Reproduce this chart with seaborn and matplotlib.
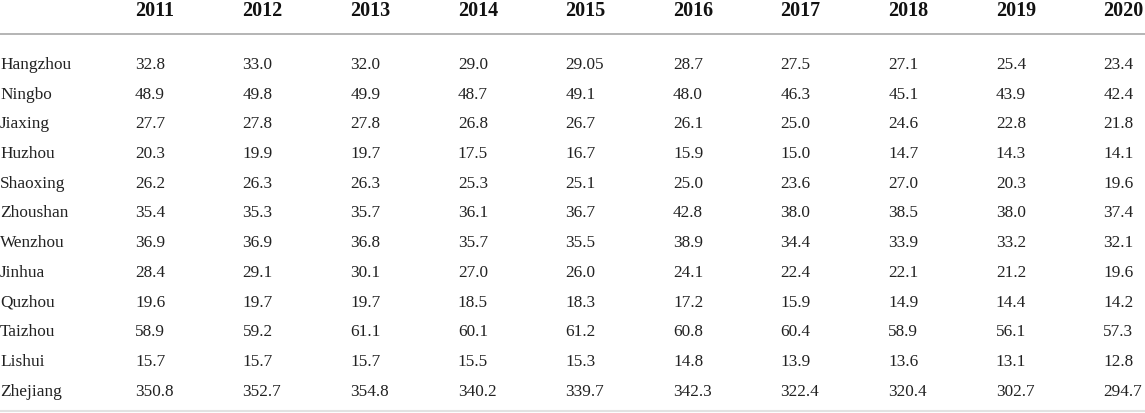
import pandas as pd
import matplotlib
matplotlib.use("Agg")
import matplotlib.pyplot as plt
import seaborn as sns

years = ["2011", "2012", "2013", "2014", "2015", "2016", "2017", "2018", "2019", "2020"]
cities = ["Hangzhou", "Ningbo", "Jiaxing", "Huzhou", "Shaoxing", "Zhoushan",
          "Wenzhou", "Jinhua", "Quzhou", "Taizhou", "Lishui", "Zhejiang"]

hangzhou = ["32.8", "33.0", "32.0", "29.0", "29.05", "28.7", "27.5", "27.1", "25.4", "23.4"]
ningbo = ["48.9", "49.8", "49.9", "48.7", "49.1", "48.0", "46.3", "45.1", "43.9", "42.4"]
jiaxing = ["27.7", "27.8", "27.8", "26.8", "26.7", "26.1", "25.0", "24.6", "22.8", "21.8"]
huzhou = ["20.3", "19.9", "19.7", "17.5", "16.7", "15.9", "15.0", "14.7", "14.3", "14.1"]
shaoxing = ["26.2", "26.3", "26.3", "25.3", "25.1", "25.0", "23.6", "27.0", "20.3", "19.6"]
zhoushan = ["35.4", "35.3", "35.7", "36.1", "36.7", "42.8", "38.0", "38.5", "38.0", "37.4"]
wenzhou = ["36.9", "36.9", "36.8", "35.7", "35.5", "38.9", "34.4", "33.9", "33.2", "32.1"]
jinhua = ["28.4", "29.1", "30.1", "27.0", "26.0", "24.1", "22.4", "22.1", "21.2", "19.6"]
quzhou = ["19.6", "19.7", "19.7", "18.5", "18.3", "17.2", "15.9", "14.9", "14.4", "14.2"]
taizhou = ["58.9", "59.2", "61.1", "60.1", "61.2", "60.8", "60.4", "58.9", "56.1", "57.3"]
lishui = ["15.7", "15.7", "15.7", "15.5", "15.3", "14.8", "13.9", "13.6", "13.1", "12.8"]
zhejiang = ["350.8", "352.7", "354.8", "340.2", "339.7", "342.3", "322.4", "320.4", "302.7", "294.7"]

rows = [hangzhou, ningbo, jiaxing, huzhou, shaoxing, zhoushan,
        wenzhou, jinhua, quzhou, taizhou, lishui, zhejiang]
df = pd.DataFrame(rows, index=cities, columns=years)

sns.set_theme(style="white")
plt.rcParams['font.family'] = ['Liberation Serif', 'DejaVu Serif']

fig = plt.figure(figsize=(11.45, 4.14), dpi=100)
ax = fig.add_axes([0, 0, 1, 1])
ax.set_xlim(0, 1145)
ax.set_ylim(414, 0)
ax.axis('off')

# layout in pixel units (baselines)
col_x0 = 135
col_step = 107.6
head_base = 15.5
row_base0 = 69
row_step = 29.7
txt = '#222222'

for j, yr in enumerate(df.columns):
    ax.text(col_x0 + j * col_step, head_base, yr, fontsize=14.5, fontweight='bold',
            ha='left', va='baseline', color='#111111')

ax.plot([0, 1145], [35, 35], color='#a0a0a0', lw=1.1)
ax.plot([0, 1145], [412.5, 412.5], color='#e2e2e2', lw=1.5)

for i, city in enumerate(df.index):
    y = row_base0 + i * row_step
    ax.text(0, y, city, fontsize=12.4, ha='left', va='baseline', color=txt)
    for j, yr in enumerate(df.columns):
        ax.text(col_x0 + j * col_step, y, df.loc[city, yr], fontsize=12.4,
                ha='left', va='baseline', color=txt)

fig.savefig("out.png", dpi=100)
